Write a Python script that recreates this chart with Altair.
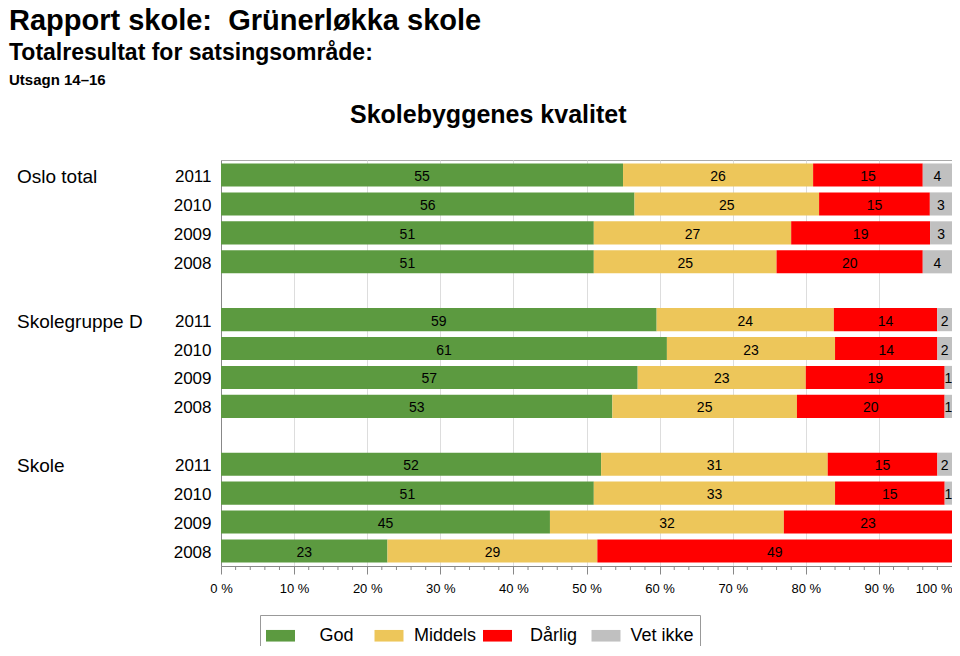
import altair as alt
import pandas as pd

# ---- data ----
groups = ["Oslo total", "Skolegruppe D", "Skole"]
years = ["2011", "2010", "2009", "2008"]
categories = ["God", "Middels", "Dårlig", "Vet ikke"]
colors = ["#5c9a40", "#edc65a", "#ff0000", "#c0c0c0"]

god = [55, 56, 51, 51, 59, 61, 57, 53, 52, 51, 45, 23]
middels = [26, 25, 27, 25, 24, 23, 23, 25, 31, 33, 32, 29]
darlig = [15, 15, 19, 20, 14, 14, 19, 20, 15, 15, 23, 49]
vet_ikke = [4, 3, 3, 4, 2, 2, 1, 1, 2, 1, 0, 0]

x_ticks = [0, 0.1, 0.2, 0.3, 0.4, 0.5, 0.6, 0.7, 0.8, 0.9, 1.0]
minor_ticks = [i / 50 for i in range(51) if i % 5 != 0]

# ---- build tables ----
series = [god, middels, darlig, vet_ikke]
rows = []
row_domain = []
for gi, g in enumerate(groups):
    if gi > 0:
        row_domain.append(f"gap{gi}")
    for y in years:
        row_domain.append(f"{g}|{y}")
k = 0
for g in groups:
    for y in years:
        for ci, c in enumerate(categories):
            rows.append({"row": f"{g}|{y}", "cat": c, "order": ci, "value": series[ci][k]})
        k += 1
df = pd.DataFrame(rows)
group_df = pd.DataFrame({"row": [f"{g}|{years[0]}" for g in groups], "label": groups})
minor_df = pd.DataFrame({"t": minor_ticks})

W, H = 731, 406
FONT = "Liberation Sans"

xscale = alt.Scale(domain=[0, 1], nice=False, zero=False)
yscale = alt.Scale(domain=row_domain, paddingInner=0.2, paddingOuter=0.12)
yaxis = alt.Axis(
    title=None, ticks=False, tickSize=0, labelPadding=10, labelFont=FONT,
    labelFontSize=17, labelColor="black", domainColor="#888888",
    labelOffset=2,
    labelExpr="indexof(datum.value, '|') < 0 ? '' : split(datum.value, '|')[1]",
)
xaxis = alt.Axis(
    title=None, values=x_ticks, grid=True, gridColor="#dddddd", tickSize=8,
    tickColor="#888888", domainColor="#888888", labelFont=FONT, labelFontSize=13,
    labelColor="black", labelPadding=8,
    labelExpr="round(datum.value*100) + ' %'",
    labelAlign={"condition": {"test": "datum.value >= 1", "value": "right"}, "value": "center"},
)
y_enc = alt.Y("row:N", scale=yscale, axis=yaxis, sort=row_domain)

base = alt.Chart(df).transform_stack(
    stack="value", groupby=["row"], as_=["x0", "x1"], offset="normalize",
    sort=[alt.SortField("order", order="ascending")],
).transform_calculate(mid="(datum.x0 + datum.x1) / 2")

bars = base.mark_bar().encode(
    x=alt.X("x0:Q", scale=xscale, axis=xaxis),
    x2="x1:Q",
    y=y_enc,
    color=alt.Color(
        "cat:N",
        scale=alt.Scale(domain=categories, range=colors),
        legend=alt.Legend(
            orient="none", legendX=39, legendY=455, direction="horizontal",
            columns=4, gridAlign="all", title=None,
            symbolType="M-1,-0.4H1V0.4H-1Z", symbolSize=841, symbolStrokeWidth=0,
            symbolOpacity=1, labelAlign="center", labelOffset=41.5,
            labelFont=FONT, labelFontSize=18, labelColor="black", labelLimit=300,
            columnPadding=5.5, padding=6, strokeColor="#999999",
        ),
    ),
    order=alt.Order("order:Q"),
)

labels = base.transform_filter("datum.value > 0").mark_text(
    font=FONT, fontSize=14, color="black", baseline="middle", align="center", dy=2
).encode(
    x=alt.X("mid:Q", scale=xscale, axis=xaxis),
    y=y_enc,
    text="value:Q",
)

group_labels = alt.Chart(group_df).mark_text(
    font=FONT, fontSize=19, color="black", align="left", baseline="middle", dy=2
).encode(x=alt.value(-204), y=y_enc, text="label:N")

minor = alt.Chart(minor_df).mark_rule(color="#888888", strokeWidth=1).encode(
    x=alt.X("t:Q", scale=xscale, axis=xaxis), y=alt.value(H), y2=alt.value(H + 4)
)


def header(text, x, y, size):
    return alt.Chart(alt.Data(values=[{"t": text}])).mark_text(
        font=FONT, fontSize=size, fontWeight="bold", color="black",
        align="left", baseline="alphabetic"
    ).encode(x=alt.value(x), y=alt.value(y), text="t:N")


h1 = header("Rapport skole:\u00a0 Grünerløkka skole", -212, -130, 29)
h2 = header("Totalresultat for satsingsområde:", -212, -100, 23)
h3 = header("Utsagn 14–16", -212, -75, 15)
h4 = header("Skolebyggenes kvalitet", 129, -37, 25)

chart = alt.layer(bars, labels, group_labels, minor, h1, h2, h3, h4).properties(
    width=W, height=H,
    autosize=alt.AutoSizeParams(type="none"),
    padding={"left": 213, "top": 152, "right": 0, "bottom": 80},
).configure_view(stroke="#aaaaaa", strokeWidth=1)

chart.save("out.html", embed_options={"renderer": "svg", "actions": False})
